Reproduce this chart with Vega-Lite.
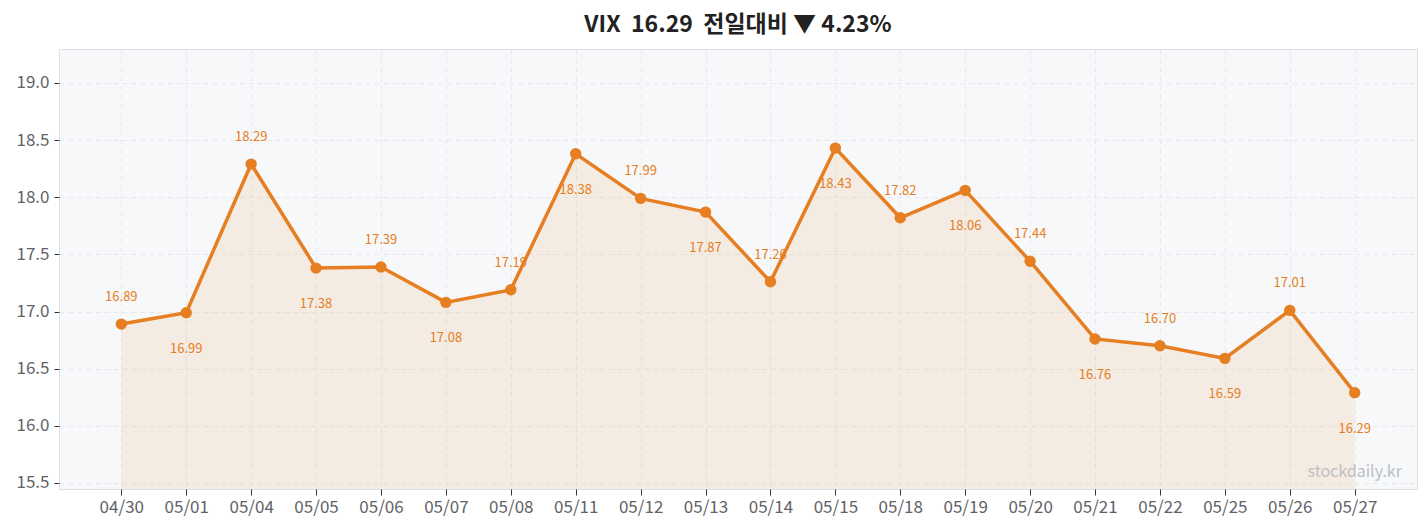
{
  "$schema": "https://vega.github.io/schema/vega-lite/v6.json",
  "width": 1358,
  "height": 440,
  "autosize": {"type": "none"},
  "padding": {"left": 59, "top": 49, "right": 10, "bottom": 39},
  "background": "#ffffff",
  "config": {
    "font": "Noto Sans CJK KR",
    "view": {"fill": "#f7f8fa", "stroke": "#dde1e6", "strokeWidth": 1}
  },
  "title": {
    "text": "VIX\u00a0\u00a016.29\u00a0\u00a0전일대비 ▼ 4.23%",
    "fontSize": 23,
    "fontWeight": "bold",
    "color": "#222222",
    "anchor": "middle",
    "offset": 12,
    "font": "Noto Sans CJK KR"
  },
  "data": {
    "values": [
      {"date": "04/30", "v": 16.89},
      {"date": "05/01", "v": 16.99},
      {"date": "05/04", "v": 18.29},
      {"date": "05/05", "v": 17.38},
      {"date": "05/06", "v": 17.39},
      {"date": "05/07", "v": 17.08},
      {"date": "05/08", "v": 17.19},
      {"date": "05/11", "v": 18.38},
      {"date": "05/12", "v": 17.99},
      {"date": "05/13", "v": 17.87},
      {"date": "05/14", "v": 17.26},
      {"date": "05/15", "v": 18.43},
      {"date": "05/18", "v": 17.82},
      {"date": "05/19", "v": 18.06},
      {"date": "05/20", "v": 17.44},
      {"date": "05/21", "v": 16.76},
      {"date": "05/22", "v": 16.70},
      {"date": "05/25", "v": 16.59},
      {"date": "05/26", "v": 17.01},
      {"date": "05/27", "v": 16.29}
    ]
  },
  "transform": [{"window": [{"op": "row_number", "as": "i"}]}],
  "encoding": {
    "x": {
      "field": "date",
      "type": "ordinal",
      "sort": null,
      "scale": {"type": "point", "padding": 0.96},
      "axis": {
        "title": null,
        "labelAngle": 0,
        "labelFontSize": 17,
        "labelColor": "#5f6368",
        "labelPadding": 4,
        "tickColor": "#333333",
        "tickSize": 6,
        "domain": false,
        "grid": true,
        "gridColor": "#e6e8ec",
        "gridDash": [5, 4]
      }
    },
    "y": {
      "field": "v",
      "type": "quantitative",
      "scale": {"domain": [15.447, 19.297], "nice": false, "zero": false},
      "axis": {
        "title": null,
        "values": [15.5, 16, 16.5, 17, 17.5, 18, 18.5, 19],
        "format": ".1f",
        "labelFontSize": 17,
        "labelColor": "#5f6368",
        "labelPadding": 5,
        "tickColor": "#333333",
        "tickSize": 5,
        "domain": false,
        "grid": true,
        "gridColor": "#e6e8ec",
        "gridDash": [5, 4]
      }
    }
  },
  "layer": [
    {
      "mark": {"type": "area", "color": "#e67e22", "opacity": 0.1},
      "encoding": {"y2": {"datum": 15.447}}
    },
    {"mark": {"type": "line", "color": "#e67e22", "strokeWidth": 3.5}},
    {"mark": {"type": "point", "filled": true, "color": "#e67e22", "opacity": 1, "size": 130}},
    {
      "transform": [{"filter": "datum.i % 2 == 1"}],
      "mark": {"type": "text", "color": "#e67e22", "fontSize": 13, "dy": -27, "baseline": "middle"},
      "encoding": {"text": {"field": "v", "format": ".2f"}}
    },
    {
      "transform": [{"filter": "datum.i % 2 == 0"}],
      "mark": {"type": "text", "color": "#e67e22", "fontSize": 13, "dy": 36, "baseline": "middle"},
      "encoding": {"text": {"field": "v", "format": ".2f"}}
    },
    {
      "data": {"values": [{"t": "stockdaily.kr", "date": "05/27", "v": 15.6}]},
      "mark": {"type": "text", "color": "#bcc0c5", "fontSize": 16, "baseline": "middle"},
      "encoding": {
        "text": {"field": "t"}
      }
    }
  ]
}
